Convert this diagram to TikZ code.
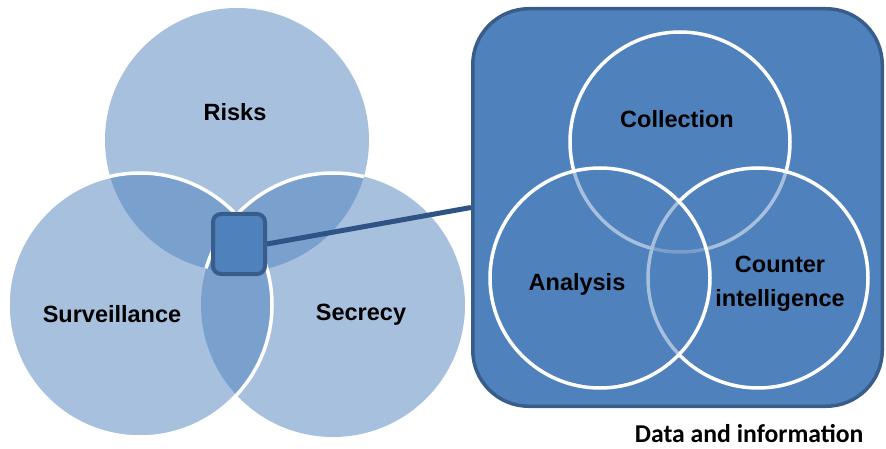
\documentclass[tikz,border=0pt]{standalone}
\usepackage{fontspec}
\setmainfont{Liberation Sans}
\newfontfamily\captionfont{Carlito}
\usepackage{tikz}
\usetikzlibrary{positioning}
\definecolor{vennblue}{HTML}{4F81BD}
\definecolor{venndark}{HTML}{385D8A}
\definecolor{linkblue}{HTML}{2E5384}

\begin{document}
\begin{tikzpicture}[x=1pt,y=-1pt,
        every node/.style={font=\fontsize{23.5}{34}\selectfont\bfseries, align=center},
        lobe/.style={fill=vennblue, fill opacity=0.5},
        rim/.style={draw=white, line width=3.5pt},
        ring/.style={fill=vennblue, fill opacity=0.5, draw=white, line width=3.5pt},
        hubbox/.style={draw=venndark, fill=vennblue, line width=4pt, rounded corners=8pt,
          minimum width=52pt, minimum height=60pt, inner sep=0pt},
        panelbox/.style={draw=venndark, fill=vennblue, line width=3.5pt, rounded corners=56pt,
          minimum width=409.5pt, minimum height=397.5pt, inner sep=0pt},
        ]
        \useasboundingbox (0,0) rectangle (886,449);

        % left venn
        \coordinate (risks) at (237,140);
        \coordinate (surv)  at (140,305);
        \coordinate (secr)  at (333,305);
        \fill[lobe] (risks) circle (132);
        \fill[lobe] (surv) circle (132);
        \fill[lobe] (secr) circle (132);
        \draw[rim] (surv) circle (132);
        \begin{scope}
          \clip (risks) circle (132);
          \draw[rim] (secr) circle (132);
        \end{scope}

        \node[hubbox] (hub) at (239,244) {};

        % data and information panel
        \node[panelbox] (panel) at (677.5,207.5) {};
        \coordinate (coll) at (680,142);
        \coordinate (anal) at (600,278);
        \coordinate (ctr)  at (758,278);
        \path[ring] (coll) circle (110);
        \path[ring] (ctr) circle (110);
        \path[ring] (anal) circle (110);

        \draw[linkblue, line width=5pt] (hub.east) -- (panel.west);

        \node (t_risks) at (235,112) {Risks};
        \node (t_surv)  at (112,314) {Surveillance};
        \node (t_secr)  at (361,315) {Secrecy};
        \node (t_coll)  at (677,119) {Collection};
        \node (t_anal)  at (577,284) {Analysis};
        \node (t_ctr)   at (780,284) {Counter\\intelligence};
        \node[font=\captionfont\fontsize{25.7}{30}\selectfont\bfseries, anchor=base east]
          (t_data) at (867,442) {Data and information};
      \end{tikzpicture}
\end{document}
